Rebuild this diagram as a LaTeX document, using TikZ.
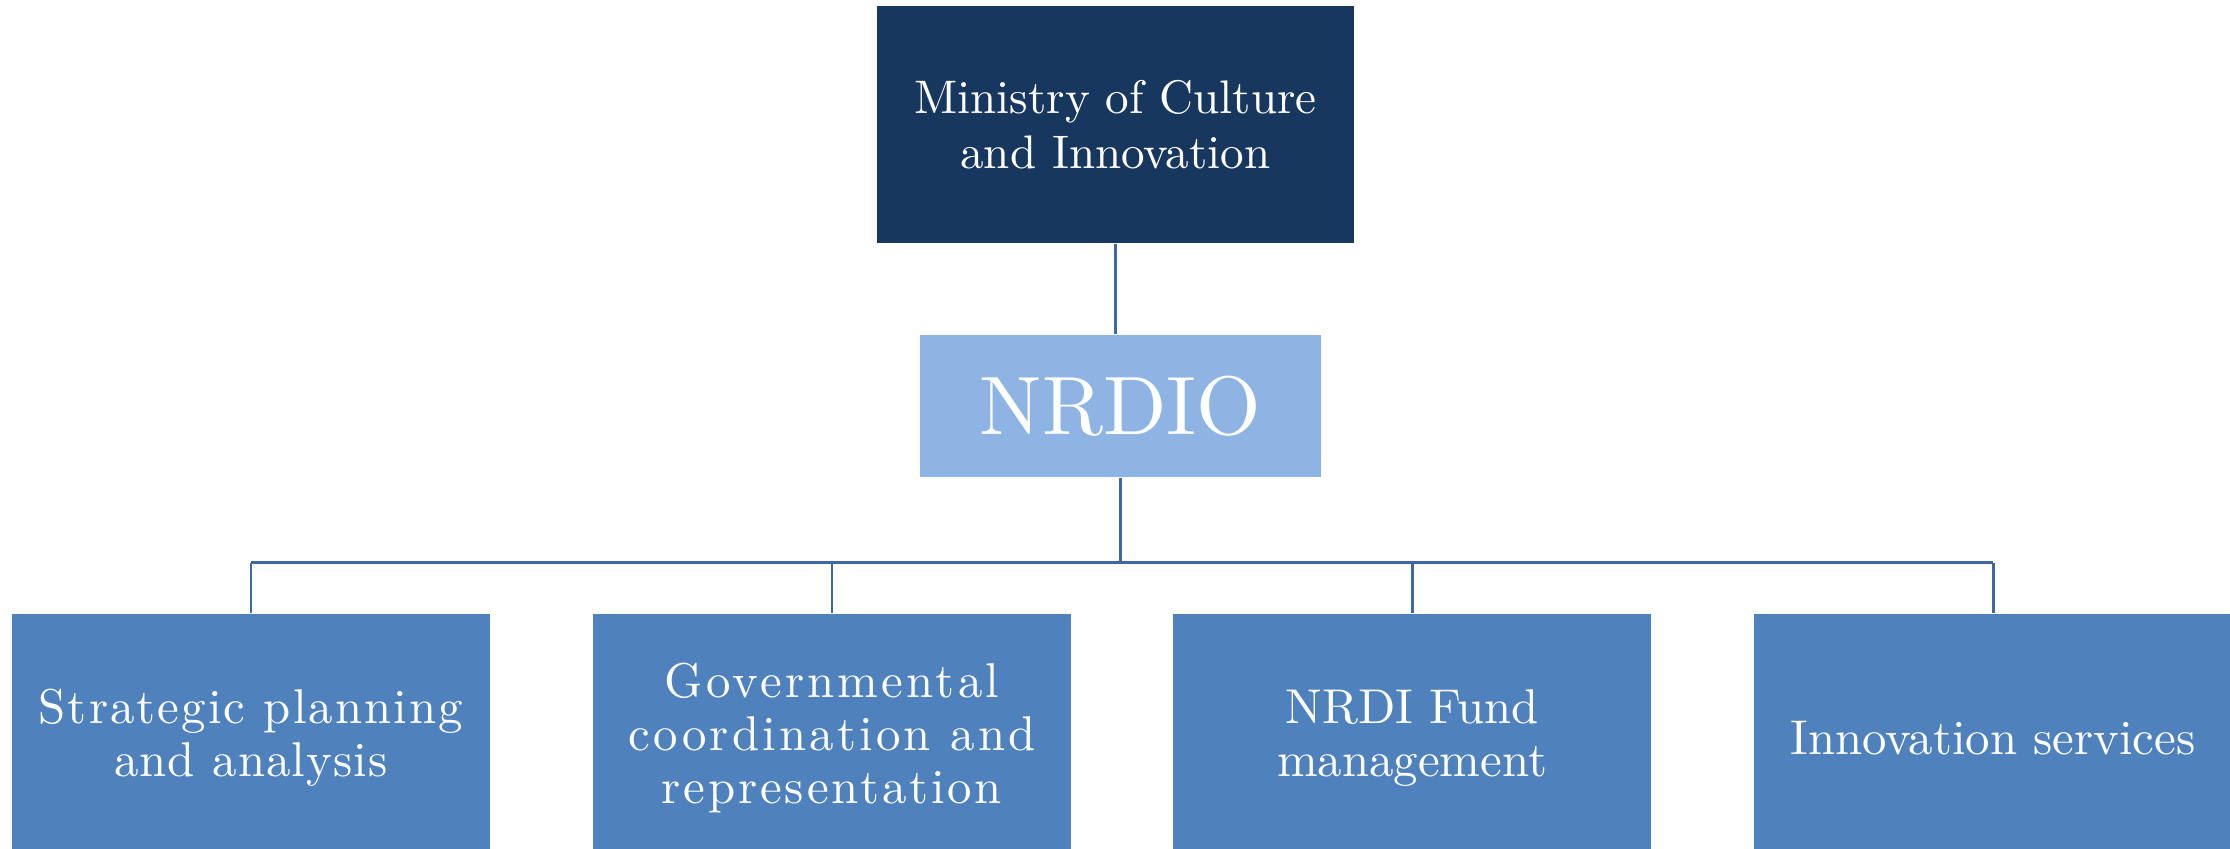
\documentclass[tikz,border=0pt]{standalone}
\usepackage{fontspec}
\setmainfont{lmroman10-regular}[Extension=.otf]
\usepackage{xcolor}
\definecolor{ministrynavy}{RGB}{24, 55, 94}
\definecolor{nrdiolight}{RGB}{142, 180, 227}
\definecolor{unitblue}{RGB}{79, 129, 189}
\definecolor{linkblue}{RGB}{64, 104, 160}
\usetikzlibrary{positioning}

% letter-spaced line of text
\newcommand{\spaced}[2]{{\addfontfeature{LetterSpace=#1}#2}}

\tikzset{
    orgbox/.style={rectangle, fill=#1, text=white, inner sep=0pt, align=center},
    link/.style={draw=linkblue, line width=0.85pt}
}

\begin{document}
\begin{tikzpicture}
    \useasboundingbox (0, 0) rectangle (22.3, -8.49);
    \clip (0, 0) rectangle (22.3, -8.49);

    % Ministry and agency
    \node[orgbox=ministrynavy, minimum width=4.77cm, minimum height=2.37cm,
          font=\fontsize{13.4}{15.6}\selectfont] (ministry) at (11.155, -1.245)
          {Ministry of Culture\\and Innovation};
    \node[orgbox=nrdiolight, minimum width=4.01cm, minimum height=1.42cm,
          font=\fontsize{23.6}{28}\selectfont] (nrdio) at (11.205, -4.06) {NRDIO};

    % Departments
    \foreach \x/\name/\lab in {2.51/strategy/{\spaced{4.3}{Strategic planning}\\\spaced{2.3}{and analysis}},
                               8.32/coordination/{\spaced{6.7}{Governmental}\\\spaced{6.5}{coordination and}\\\spaced{5.8}{representation}},
                               14.12/fund/{NRDI Fund\\management},
                               19.93/services/{Innovation services}} {
        \node[orgbox=unitblue, minimum width=4.78cm, minimum height=2.48cm,
              font=\fontsize{13.9}{15.2}\selectfont] (\name) at (\x, -7.38) {\lab};
    }

    % Connections
    \draw[link] (ministry.south) -- (ministry.south |- nrdio.north);
    \draw[link] (nrdio.south) -- ++(0, -0.85) coordinate (bus);
    \draw[link] (bus -| strategy.north) -- (bus -| services.north);
    \foreach \name in {strategy, coordination, fund, services} {
        \draw[link] (bus -| \name.north) -- (\name.north);
    }
\end{tikzpicture}
\end{document}
